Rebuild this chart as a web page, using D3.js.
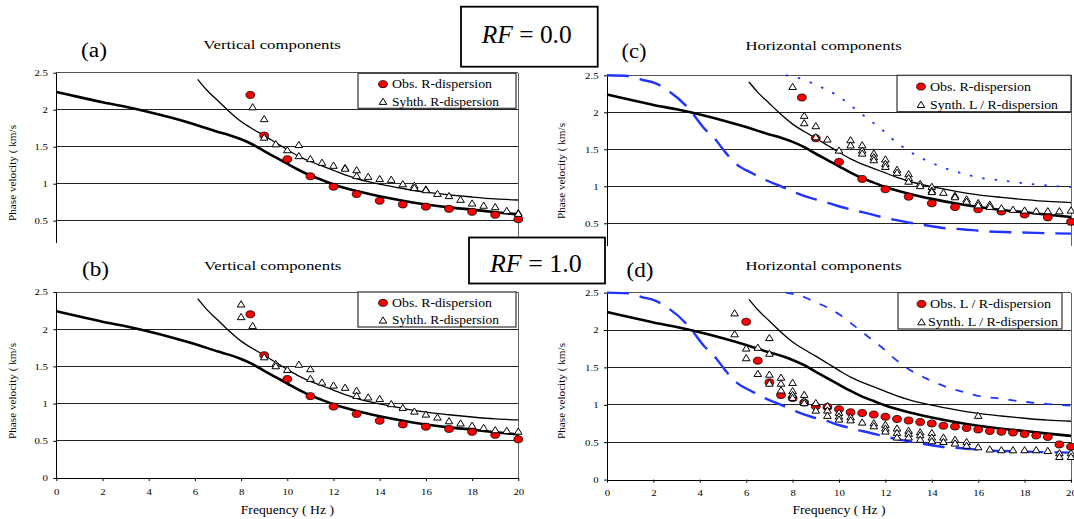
<!DOCTYPE html>
<html>
<head>
<meta charset="utf-8">
<script src="https://cdn.jsdelivr.net/npm/d3@7/dist/d3.min.js"></script>
<style>
	body { margin: 0; background: #fff; }
	svg { display: block; }
	svg text { font-family: "Liberation Serif", "Times New Roman", serif; }
</style>
</head>
<body>
<div id="dataviz-container"></div>
<script>
// ---- data (frequency Hz, phase velocity km/s) ----
var xTicks = [0, 2, 4, 6, 8, 10, 12, 14, 16, 18, 20];
var yTicksFull = [0, 0.5, 1, 1.5, 2, 2.5];
var yTicksCut = [0.5, 1, 1.5, 2, 2.5];
var gridValues = [0.5, 1, 1.5, 2];

// thick black curve
var fundamentalCurve = [[0, 2.24], [1, 2.17], [2, 2.10], [3, 2.04], [4, 1.97], [5, 1.89], [6, 1.80], [7, 1.70],
	[7.5, 1.655], [8, 1.60], [8.5, 1.53], [9, 1.44], [9.5, 1.355], [10, 1.27], [10.5, 1.185], [11, 1.11],
	[11.5, 1.05], [12, 0.99], [13, 0.90], [14, 0.83], [15, 0.77], [16, 0.72], [17, 0.68], [18, 0.65],
	[19, 0.615], [20, 0.585]];

// thin black curve
var higherCurve = [[6.12, 2.41], [6.5, 2.27], [7, 2.12], [7.4, 2.0], [8, 1.84], [8.5, 1.74], [9, 1.65],
	[9.5, 1.555], [10, 1.46], [10.5, 1.37], [11, 1.30], [11.5, 1.24], [12, 1.18], [12.5, 1.12], [13, 1.07],
	[14, 0.995], [15, 0.935], [16, 0.885], [17, 0.85], [18, 0.82], [19, 0.795], [20, 0.78]];

// blue dashed bounds (horizontal components)
var blueLower = [[0, 2.5], [0.9, 2.49], [1.5, 2.44], [2.1, 2.39], [2.6, 2.30], [3.4, 2.09], [3.7, 1.98],
	[4.2, 1.78], [4.6, 1.66], [5.1, 1.46], [5.5, 1.32], [6.3, 1.17], [6.8, 1.09], [7.5, 1.0], [8.0, 0.93],
	[8.8, 0.84], [9.4, 0.79], [10.1, 0.72], [10.6, 0.68], [11.4, 0.62], [11.9, 0.58], [12.7, 0.53],
	[13.2, 0.50], [14, 0.46], [14.4, 0.44], [15.3, 0.42], [16.4, 0.39], [17.4, 0.38], [18.5, 0.37], [20, 0.36]];
var blueUpper = [[7.7, 2.5], [8.5, 2.44], [9.0, 2.37], [9.5, 2.30], [10.0, 2.21], [10.4, 2.12], [10.8, 2.02],
	[11.3, 1.90], [11.8, 1.78], [12.3, 1.64], [12.8, 1.52], [13.2, 1.44], [13.7, 1.36], [14.2, 1.29],
	[14.7, 1.23], [15.5, 1.16], [16, 1.12], [17, 1.08], [18, 1.04], [19, 1.01], [20, 0.99]];

// observed R-dispersion (panels a, b, c)
var obsR = [[8.4, 2.2], [9, 1.65], [10, 1.33], [11, 1.1], [12, 0.96], [13, 0.86], [14, 0.77], [15, 0.72],
	[16, 0.69], [17, 0.66], [18, 0.62], [19, 0.58], [20, 0.52]];

// observed L / R-dispersion (panel d)
var obsLR = [[6, 2.11], [6.5, 1.59], [7, 1.30], [7.5, 1.13], [8, 1.09], [8.5, 1.03], [9, 0.98], [9.5, 0.97],
	[10, 0.94], [10.5, 0.90], [11, 0.89], [11.5, 0.87], [12, 0.84], [12.5, 0.81], [13, 0.79], [13.5, 0.77],
	[14, 0.75], [14.5, 0.72], [15, 0.71], [15.5, 0.69], [16, 0.67], [16.5, 0.65], [17, 0.64], [17.5, 0.63],
	[18, 0.61], [18.5, 0.59], [19, 0.57], [19.5, 0.47], [20, 0.44]];

// synthetic dispersion, one array per panel
var synthA = [[8.5, 2.04], [9, 1.88], [9, 1.63], [9.5, 1.54], [10, 1.46], [10.5, 1.53], [10.5, 1.38],
	[11, 1.34], [11.5, 1.29], [12, 1.25], [12.5, 1.22], [12.5, 1.21], [13, 1.19], [13, 1.11], [13.5, 1.1],
	[14, 1.07], [14.5, 1.06], [15, 1.0], [15.5, 0.98], [15.5, 0.95], [16, 0.93], [16, 0.92], [16.5, 0.87],
	[17, 0.84], [17.5, 0.79], [18, 0.74], [18.5, 0.71], [19, 0.69], [19.5, 0.64], [20, 0.61], [20, 0.60]];
var synthB = [[8, 2.34], [8, 2.17], [8.5, 2.05], [9, 1.63], [9.5, 1.54], [9.5, 1.51], [10, 1.46], [10.5, 1.53],
	[11, 1.47], [11, 1.34], [11.5, 1.29], [12, 1.25], [12.5, 1.22], [13, 1.18], [13, 1.11], [13.5, 1.09],
	[14, 1.07], [14.5, 1.0], [15, 0.95], [15.5, 0.9], [16, 0.86], [16.5, 0.82], [17, 0.77], [17.5, 0.74],
	[18, 0.71], [18.5, 0.68], [19, 0.65], [19.5, 0.64], [20, 0.63]];
var synthC = [[8, 2.35], [8.5, 1.96], [8.5, 1.86], [9, 1.82], [9, 1.67], [9.5, 1.64], [10, 1.49], [10.5, 1.63],
	[10.5, 1.56], [11, 1.56], [11, 1.49], [11, 1.45], [11.5, 1.45], [11.5, 1.40], [11.5, 1.36], [12, 1.37],
	[12, 1.31], [12, 1.27], [12.5, 1.23], [12.5, 1.19], [13, 1.17], [13, 1.12], [13, 1.07], [13.5, 1.04],
	[13.5, 1.01], [14, 1.0], [14, 0.95], [14, 0.93], [14.5, 0.92], [15, 0.88], [15, 0.86], [15.5, 0.83],
	[15.5, 0.80], [16, 0.78], [16, 0.75], [16.5, 0.76], [16.5, 0.73], [17, 0.71], [17.5, 0.69], [18, 0.68],
	[18.5, 0.67], [19, 0.67], [19.5, 0.67], [20, 0.68]];
var synthD = [[5.5, 2.23], [5.5, 1.95], [6, 1.76], [6, 1.63], [6.5, 1.77], [6.5, 1.42], [7, 1.90], [7, 1.69],
	[7, 1.41], [7, 1.29], [7.5, 1.37], [7.5, 1.29], [7.5, 1.20], [8, 1.30], [8, 1.19], [8, 1.14], [8, 1.10],
	[8.5, 1.14], [8.5, 1.06], [8.5, 1.03], [9, 1.03], [9, 0.93], [9.5, 0.99], [9.5, 0.93], [9.5, 0.86],
	[10, 0.90], [10, 0.85], [10, 0.81], [10.5, 0.84], [10.5, 0.80], [11, 0.77], [11.5, 0.76], [11.5, 0.72],
	[12, 0.74], [12, 0.69], [12, 0.65], [12.5, 0.69], [12.5, 0.63], [12.5, 0.57], [13, 0.66], [13, 0.62],
	[13, 0.57], [13.5, 0.64], [13.5, 0.60], [13.5, 0.54], [14, 0.63], [14, 0.57], [14, 0.52], [14.5, 0.57],
	[14.5, 0.51], [15, 0.54], [15, 0.49], [15.5, 0.51], [15.5, 0.46], [16, 0.44], [16, 0.86], [16.5, 0.41],
	[17, 0.40], [17.5, 0.40], [18, 0.40], [18.5, 0.40], [19, 0.39], [19.5, 0.36], [19.5, 0.31], [20, 0.36],
	[20, 0.31]];

var panelLetters = ["(a)", "(b)", "(c)", "(d)"];
var panelTitles = ["Vertical components", "Vertical components", "Horizontal components", "Horizontal components"];
var legendObs = ["Obs. R-dispersion", "Obs. R-dispersion", "Obs. R-dispersion", "Obs. L / R-dispersion"];
var legendSynth = ["Syhth. R-dispersion", "Syhth. R-dispersion", "Synth. L / R-dispersion", "Synth. L / R-dispersion"];
var rfLabels = ["0.0", "1.0"];

// ---- layout ----
var width = 1074, height = 519;
var red = "#ff0000", blue = "#1f35ff";
var serif = "'Liberation Serif', 'Times New Roman', serif";

var panels = [
	{ x0: 56.3, x1: 518.3, yTop: 72.7, yZero: 257.7, clipTo: 243, yTicks: yTicksCut, xAxis: false,
		obs: obsR, synth: synthA, blue: false,
		letter: [81, 56.5, 26], title: [203.3, 49.3, 137.4], yTitle: [15.5, 221],
		legend: [358, 73.3, 158, 35, 383, 392, 100, 107] },
	{ x0: 56.3, x1: 518.3, yTop: 292, yZero: 478, clipTo: null, yTicks: yTicksFull, xAxis: true,
		obs: obsR, synth: synthB, blue: false,
		letter: [82, 276, 27], title: [204, 269.5, 137.4], yTitle: [15.5, 439],
		legend: [358, 292, 158, 35, 383, 392, 100, 107] },
	{ x0: 607, x1: 1071, yTop: 75.3, yZero: 260.3, clipTo: 246, yTicks: yTicksCut, xAxis: false,
		obs: obsR, synth: synthC, blue: "2.5,10",
		letter: [621.5, 58, 25], title: [745.4, 49.5, 156.3], yTitle: [565, 219],
		legend: [897, 75.3, 174, 36.4, 921, 930, 101, 128] },
	{ x0: 607, x1: 1071, yTop: 292.6, yZero: 479.6, clipTo: null, yTicks: yTicksFull, xAxis: true,
		obs: obsLR, synth: synthD, blue: "8,10",
		letter: [626.5, 276.5, 27], title: [745.4, 270, 156.3], yTitle: [565, 439],
		legend: [898, 292.6, 164, 36.4, 921.5, 930, 121, 130] }
];

var svg = d3.select("#dataviz-container")
	.append("svg")
	.attr("width", width)
	.attr("height", height)
	.attr("font-family", serif);

var defs = svg.append("defs");

function stretchedText(parent, x, y, str, size, len) {
	return parent.append("text")
		.attr("x", x)
		.attr("y", y)
		.attr("font-family", serif)
		.attr("font-size", size)
		.attr("textLength", len)
		.attr("lengthAdjust", "spacingAndGlyphs")
		.text(str);
}

function trianglePath(cx, cy) {
	var w = 7.6, h = 6.2;
	return "M" + (cx - w / 2) + "," + (cy + h / 2) + "L" + (cx + w / 2) + "," + (cy + h / 2) + "L" + cx + "," + (cy - h / 2) + "Z";
}

function drawPanel(p, i) {
	var root = svg.append("g");
	if (p.clipTo) {
		defs.append("clipPath").attr("id", "cut" + i)
			.append("rect")
			.attr("x", p.x0 - 60).attr("y", 0)
			.attr("width", p.x1 - p.x0 + 70).attr("height", p.clipTo);
		root.attr("clip-path", "url(#cut" + i + ")");
	}

	var xScale = d3.scaleLinear().domain([0, 20]).range([p.x0, p.x1]);
	var yScale = d3.scaleLinear().domain([0, 2.5]).range([p.yZero, p.yTop]);

	// grid and frame
	root.selectAll("line.grid")
		.data(gridValues)
		.enter()
		.append("line")
		.attr("class", "grid")
		.attr("x1", p.x0).attr("x2", p.x1)
		.attr("y1", function(d) { return yScale(d); })
		.attr("y2", function(d) { return yScale(d); })
		.style("stroke", "#222")
		.style("stroke-width", 1)
		.attr("shape-rendering", "crispEdges");

	root.append("line")
		.attr("x1", p.x0).attr("x2", p.x1)
		.attr("y1", yScale(2.5)).attr("y2", yScale(2.5))
		.style("stroke", "#555").attr("shape-rendering", "crispEdges");
	root.append("line")
		.attr("x1", p.x1).attr("x2", p.x1)
		.attr("y1", yScale(2.5)).attr("y2", yScale(0))
		.style("stroke", "#666").attr("shape-rendering", "crispEdges");

	// axes
	var yAxis = root.append("g")
		.attr("transform", "translate(" + p.x0 + ",0)")
		.call(d3.axisLeft(yScale)
			.tickValues(p.yTicks)
			.tickSize(3)
			.tickSizeOuter(0)
			.tickPadding(4)
			.tickFormat(function(d) { return String(d); }));
	yAxis.attr("font-family", serif).attr("font-size", 9);
	yAxis.selectAll("text").attr("transform", "scale(1.2,1)");
	yAxis.select(".domain").attr("shape-rendering", "crispEdges");

	if (p.xAxis) {
		var xAxis = root.append("g")
			.attr("transform", "translate(0," + p.yZero + ")")
			.call(d3.axisBottom(xScale)
				.tickValues(xTicks)
				.tickSize(3)
				.tickSizeOuter(0)
				.tickPadding(7.5));
		xAxis.attr("font-family", serif).attr("font-size", 9);
		xAxis.selectAll("text").attr("transform", "scale(1.2,1)");
		xAxis.select(".domain").attr("shape-rendering", "crispEdges");

		stretchedText(svg, (p.x0 + p.x1) / 2 - 46.6, 513.5, "Frequency ( Hz )", 11.5, 93.3);
	}

	// curves
	var line = d3.line()
		.x(function(d) { return xScale(d[0]); })
		.y(function(d) { return yScale(d[1]); })
		.curve(d3.curveMonotoneX);

	if (p.blue) {
		root.append("path")
			.attr("d", line(blueLower))
			.style("fill", "none")
			.style("stroke", blue)
			.style("stroke-width", 2.4)
			.style("stroke-dasharray", "22,11");
		root.append("path")
			.attr("d", line(blueUpper))
			.style("fill", "none")
			.style("stroke", blue)
			.style("stroke-width", 1.8)
			.style("stroke-dasharray", p.blue);
	}

	root.append("path")
		.attr("d", line(fundamentalCurve))
		.style("fill", "none")
		.style("stroke", "#000")
		.style("stroke-width", 2.6);
	root.append("path")
		.attr("d", line(higherCurve))
		.style("fill", "none")
		.style("stroke", "#000")
		.style("stroke-width", 1.3);

	// markers
	root.selectAll("ellipse.obs")
		.data(p.obs)
		.enter()
		.append("ellipse")
		.attr("class", "obs")
		.attr("cx", function(d) { return xScale(d[0]); })
		.attr("cy", function(d) { return yScale(d[1]); })
		.attr("rx", 4.4)
		.attr("ry", 3.5)
		.style("fill", red)
		.style("stroke", "#000")
		.style("stroke-width", 0.8);

	root.selectAll("path.synth")
		.data(p.synth)
		.enter()
		.append("path")
		.attr("class", "synth")
		.attr("d", function(d) { return trianglePath(xScale(d[0]), yScale(d[1])); })
		.style("fill", "#fff")
		.style("stroke", "#000")
		.style("stroke-width", 1);

	// legend
	var lg = p.legend;
	var legend = svg.append("g");
	legend.append("rect")
		.attr("x", lg[0]).attr("y", lg[1])
		.attr("width", lg[2]).attr("height", lg[3])
		.style("fill", "#fff")
		.style("stroke", "#333")
		.style("stroke-width", 1.2);
	var row1 = lg[1] + lg[3] * 0.31, row2 = lg[1] + lg[3] * 0.8;
	legend.append("ellipse")
		.attr("cx", lg[4]).attr("cy", row1)
		.attr("rx", 4.4).attr("ry", 3.5)
		.style("fill", red).style("stroke", "#000").style("stroke-width", 0.8);
	legend.append("path")
		.attr("d", trianglePath(lg[4], row2))
		.style("fill", "#fff").style("stroke", "#000").style("stroke-width", 1);
	stretchedText(legend, lg[5], row1 + 4.3, legendObs[i], 12.5, lg[6]);
	stretchedText(legend, lg[5] - (i == 3 ? 2 : 0), row2 + 4.3, legendSynth[i], 12.5, lg[7]);

	// labels
	stretchedText(svg, p.letter[0], p.letter[1], panelLetters[i], 20, p.letter[2]);
	stretchedText(svg, p.title[0], p.title[1], panelTitles[i], 12.5, p.title[2]);
	svg.append("text")
		.attr("transform", "translate(" + p.yTitle[0] + "," + p.yTitle[1] + ") rotate(-90)")
		.attr("font-family", serif)
		.attr("font-size", 11.2)
		.text("Phase velocity ( km/s");
}

panels.forEach(drawPanel);

// RF boxes
var rfBoxes = [[461, 6.7, 136.7, 60, 481.7, 43.3, 90], [469, 237.5, 136, 46, 490, 271.7, 91.7]];
rfBoxes.forEach(function(b, i) {
	svg.append("rect")
		.attr("x", b[0]).attr("y", b[1])
		.attr("width", b[2]).attr("height", b[3])
		.style("fill", "#fff")
		.style("stroke", "#000")
		.style("stroke-width", 1.8);
	var t = svg.append("text")
		.attr("x", b[4]).attr("y", b[5])
		.attr("font-family", serif)
		.attr("font-size", 25)
		.attr("textLength", b[6])
		.attr("lengthAdjust", "spacingAndGlyphs");
	t.append("tspan").attr("font-style", "italic").text("RF");
	t.append("tspan").text(" = " + rfLabels[i]);
});
</script>
</body>
</html>
